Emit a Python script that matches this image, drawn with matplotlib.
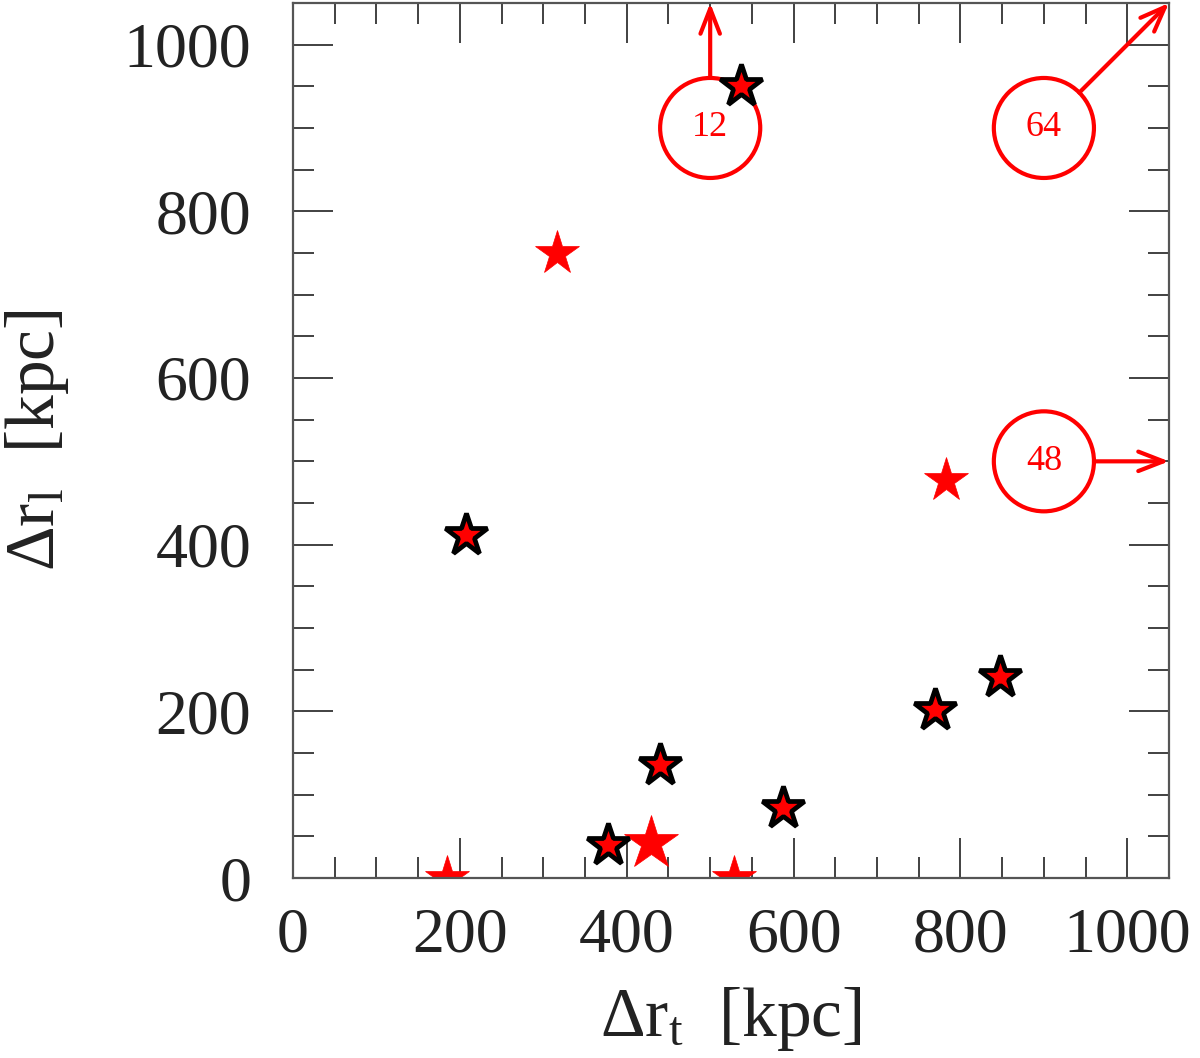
import matplotlib
matplotlib.use("Agg")
import matplotlib.pyplot as plt
from matplotlib.patches import Circle
from matplotlib.ticker import MultipleLocator

plt.rcParams['font.family'] = ['Liberation Serif', 'DejaVu Serif']
plt.rcParams['mathtext.fontset'] = 'custom'
plt.rcParams['mathtext.rm'] = 'Liberation Serif'
plt.rcParams['mathtext.it'] = 'Liberation Serif:italic'

# black-edged stars
edged_x = [207, 377, 440, 587, 770, 847, 537]
edged_y = [412, 40, 136, 84, 202, 241, 950]
# plain red stars
red_x = [316, 783, 184, 529]
red_y = [750, 478, 0, 0]
# large red star
big_x = [429]
big_y = [42]
# circled counts with arrows (lower limits / off-chart)
circ_x = [500, 900, 900]
circ_y = [900, 900, 500]
circ_lbl = ["12", "64", "48"]
arrow_end_x = [500, 1050, 1050]
arrow_end_y = [1050, 1050, 500]

fig = plt.figure(figsize=(12, 10.58), dpi=100)
ax = fig.add_axes([0.2442, 0.1701, 0.9742 - 0.2442, 0.9972 - 0.1701])
ax.set_xlim(0, 1050)
ax.set_ylim(0, 1050)

red = '#ff0000'
ax.plot(red_x, red_y, linestyle='none', marker='*', ms=33, mfc=red, mec=red, mew=0.5)
ax.plot(big_x, big_y, linestyle='none', marker='*', ms=41, mfc=red, mec=red, mew=0.5)
ax.plot(edged_x, edged_y, linestyle='none', marker='*', ms=32, mfc=red, mec='black', mew=3.4)

R = 60
for cx, cy, lbl, ex, ey in zip(circ_x, circ_y, circ_lbl, arrow_end_x, arrow_end_y):
    ax.add_patch(Circle((cx, cy), R, fill=False, ec=red, lw=3.0))
    ax.text(cx, cy, lbl, color=red, fontsize=26, ha='center', va='center')
    dx, dy = ex - cx, ey - cy
    d = (dx**2 + dy**2) ** 0.5
    sx, sy = cx + R * dx / d, cy + R * dy / d
    ax.annotate('', xy=(ex, ey), xytext=(sx, sy), annotation_clip=False,
                arrowprops=dict(arrowstyle='->,head_length=0.9,head_width=0.35',
                                color=red, lw=3.0, mutation_scale=20,
                                shrinkA=0, shrinkB=0))

spc = '#555555'
for s in ax.spines.values():
    s.set_linewidth(1.6)
    s.set_color(spc)
ax.xaxis.set_major_locator(MultipleLocator(200))
ax.xaxis.set_minor_locator(MultipleLocator(50))
ax.yaxis.set_major_locator(MultipleLocator(200))
ax.yaxis.set_minor_locator(MultipleLocator(50))
ax.tick_params(which='both', direction='in', top=True, right=True, color='#333333')
ax.tick_params(which='major', length=29, width=1.3)
ax.tick_params(which='minor', length=15, width=1.3)
ax.tick_params(axis='x', which='major', labelsize=46, pad=21)
ax.tick_params(axis='y', which='major', labelsize=46, pad=30)
for lab in ax.get_xticklabels() + ax.get_yticklabels():
    lab.set_color('#222222')

ax.set_xlabel('Δr$_\\mathrm{t}$  [kpc]', fontsize=50, color='#222222', labelpad=14)
ax.set_ylabel('Δr$_\\mathrm{l}$  [kpc]', fontsize=50, color='#222222', labelpad=38)

fig.savefig('out.png', dpi=100)
